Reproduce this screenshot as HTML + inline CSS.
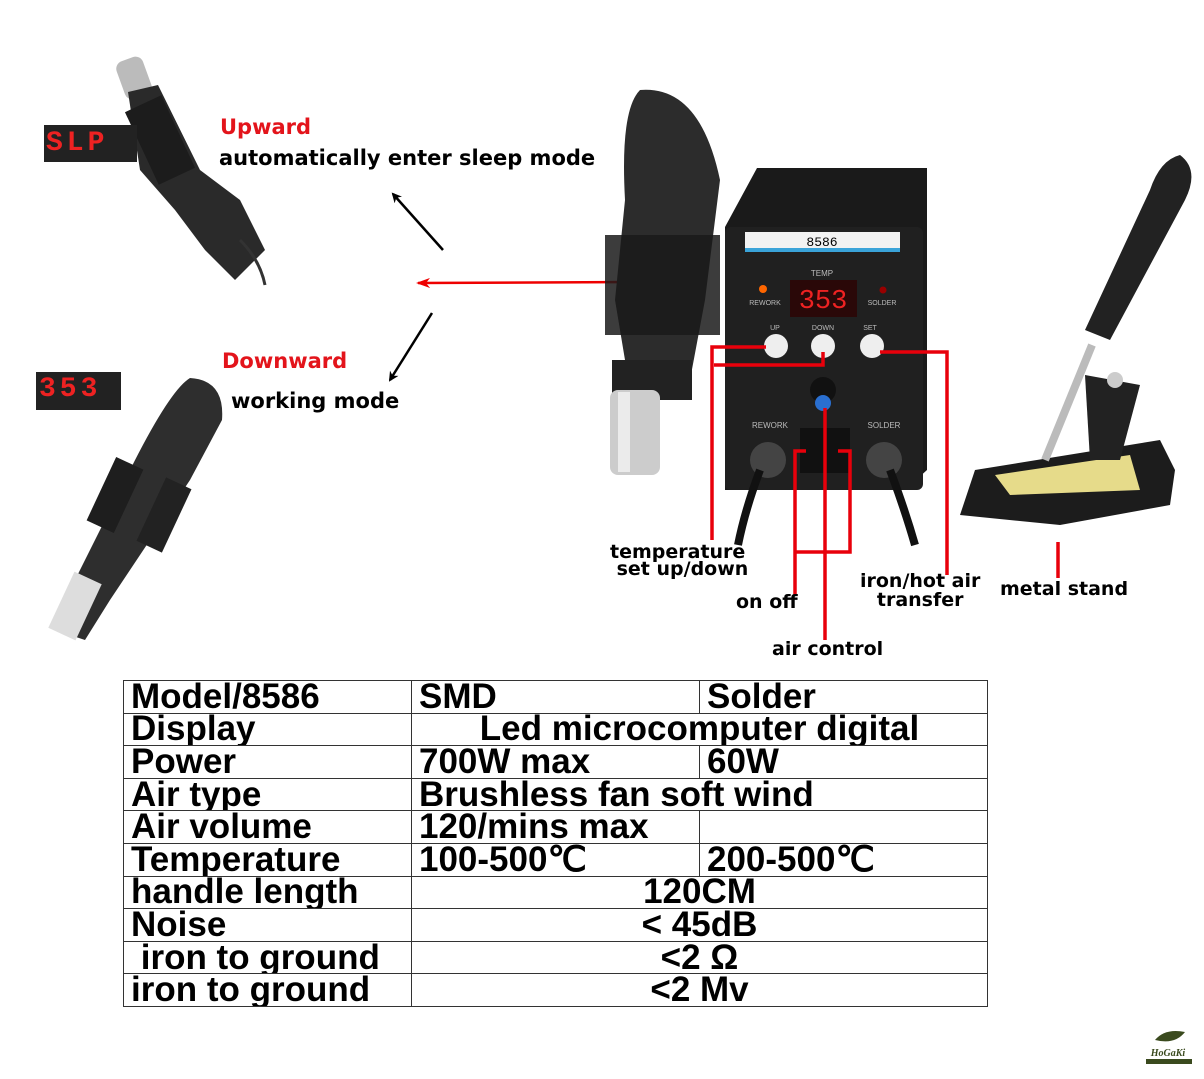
<!DOCTYPE html>
<html><head><meta charset="utf-8"><style>
body{margin:0;background:#fff;width:1204px;height:1079px;overflow:hidden;position:relative;font-family:"Liberation Sans",sans-serif}
svg{position:absolute;left:0;top:0}
.t{position:absolute;font-weight:bold;white-space:nowrap;font-family:"DejaVu Sans",sans-serif}
table{position:absolute;left:123px;top:680px;border-collapse:collapse;font-family:"Liberation Sans",sans-serif;font-weight:bold;font-size:35px;table-layout:fixed}
td{border:1.5px solid #333;height:31.6px;padding:0 0 0 7px;line-height:30px;white-space:nowrap;overflow:hidden}
.c{text-align:center;padding:0}
</style></head><body>
<svg width="1204" height="1079" viewBox="0 0 1204 1079">
<defs>
<marker id="ab" markerWidth="10" markerHeight="10" refX="8" refY="5" orient="auto" markerUnits="userSpaceOnUse"><path d="M0,0 L10,5 L0,10 L3,5z" fill="#000"/></marker>
<marker id="ar" markerWidth="14" markerHeight="10" refX="12" refY="5" orient="auto" markerUnits="userSpaceOnUse"><path d="M0,0 L14,5 L0,10 L4,5z" fill="#e00"/></marker>
</defs>
<g>
<rect x="120" y="58" width="28" height="40" rx="8" fill="#bbb" transform="rotate(-20 134 78)"/>
<path d="M128,92 L158,85 L200,170 L240,200 L265,250 L235,280 L205,250 L175,210 L140,170 Z" fill="#2a2a2a"/>
<path d="M240,240 Q260,260 265,285" stroke="#333" stroke-width="3" fill="none"/>
<rect x="140" y="100" width="40" height="80" fill="#1c1c1c" transform="rotate(-25 160 140)"/>
</g>
<rect x="44" y="125" width="93" height="37" fill="#222"/>
<rect x="36" y="372" width="85" height="38" fill="#222"/>
<path d="M190,378 Q225,380 222,420 L190,480 L150,540 L110,600 L85,640 L55,630 L70,590 L100,530 L130,470 Q170,390 190,378Z" fill="#2e2e2e"/>
<rect x="100" y="460" width="30" height="70" fill="#1e1e1e" transform="rotate(25 115 495)"/>
<rect x="150" y="480" width="28" height="70" fill="#222" transform="rotate(25 164 515)"/>
<rect x="60" y="575" width="30" height="62" fill="#ddd" transform="rotate(25 75 606)"/>
<line x1="443" y1="250" x2="393" y2="194" stroke="#000" stroke-width="2.5" marker-end="url(#ab)"/>
<line x1="645" y1="282" x2="418" y2="283" stroke="#e00" stroke-width="2.5" marker-end="url(#ar)"/>
<line x1="432" y1="313" x2="390" y2="380" stroke="#000" stroke-width="2.5" marker-end="url(#ab)"/>
<path d="M757,168 L927,168 L927,470 L905,490 L725,490 L725,227 Z" fill="#1a1a1a"/>
<rect x="725" y="227" width="198" height="263" rx="6" fill="#202020"/>
<rect x="745" y="232" width="155" height="20" fill="#f2f2f2"/>
<rect x="745" y="248" width="155" height="4" fill="#3aa3d8"/>
<text x="822" y="246" font-size="13" text-anchor="middle" font-family="Liberation Mono">8586</text>
<text x="822" y="276" font-size="8" fill="#bbb" text-anchor="middle">TEMP</text>
<rect x="790" y="280" width="67" height="37" fill="#2a0808"/>
<text x="823" y="308" font-size="27" fill="#e22" text-anchor="middle" font-family="Liberation Mono">353</text>
<circle cx="763" cy="289" r="4" fill="#f60"/><circle cx="883" cy="290" r="3.5" fill="#900"/>
<text x="765" y="305" font-size="7" fill="#bbb" text-anchor="middle">REWORK</text>
<text x="882" y="305" font-size="7" fill="#bbb" text-anchor="middle">SOLDER</text>
<text x="775" y="330" font-size="7" fill="#bbb" text-anchor="middle">UP</text>
<text x="823" y="330" font-size="7" fill="#bbb" text-anchor="middle">DOWN</text>
<text x="870" y="330" font-size="7" fill="#bbb" text-anchor="middle">SET</text>
<circle cx="776" cy="346" r="12" fill="#eee"/><circle cx="823" cy="346" r="12" fill="#eee"/><circle cx="872" cy="346" r="12" fill="#eee"/>
<circle cx="823" cy="390" r="13" fill="#111"/><circle cx="823" cy="403" r="8" fill="#2a6fd0"/>
<text x="770" y="428" font-size="8" fill="#bbb" text-anchor="middle">REWORK</text>
<text x="884" y="428" font-size="8" fill="#bbb" text-anchor="middle">SOLDER</text>
<rect x="800" y="428" width="50" height="45" fill="#111"/>
<circle cx="768" cy="460" r="18" fill="#444"/><circle cx="884" cy="460" r="18" fill="#444"/>
<path d="M760,470 Q745,510 738,545" stroke="#111" stroke-width="8" fill="none"/>
<path d="M890,470 Q905,510 915,545" stroke="#111" stroke-width="8" fill="none"/>
<path d="M640,90 Q700,85 720,180 L705,300 L690,380 L630,390 L615,300 L625,200 Q620,110 640,90Z" fill="#2c2c2c"/>
<rect x="605" y="235" width="115" height="100" fill="#1a1a1a" opacity="0.85"/>
<rect x="612" y="360" width="80" height="40" fill="#222"/>
<rect x="610" y="390" width="50" height="85" rx="8" fill="#ccc"/>
<rect x="618" y="392" width="12" height="80" fill="#fff" opacity="0.6"/>
<path d="M975,470 L1160,440 L1175,470 L1170,505 L1060,525 L960,515 Z" fill="#1c1c1c"/>
<path d="M995,475 L1130,455 L1140,490 L1010,495 Z" fill="#e6db8a"/>
<path d="M1085,375 L1140,385 L1120,460 L1090,460Z" fill="#222"/>
<path d="M1180,155 Q1200,170 1185,200 L1110,340 L1085,330 L1150,190 Q1160,160 1180,155Z" fill="#222"/>
<line x1="1092" y1="345" x2="1045" y2="460" stroke="#bbb" stroke-width="8"/>
<circle cx="1115" cy="380" r="8" fill="#ccc"/>
<g stroke="#e8000b" stroke-width="3.5" fill="none">
<polyline points="766,347 712,347 712,540"/>
<polyline points="823,352 823,365 714,365"/>
<polyline points="806,451 795,451 795,595"/>
<polyline points="838,451 850,451 850,552 795,552"/>
<line x1="825" y1="408" x2="825" y2="640"/>
<polyline points="880,352 947,352 947,575"/>
<line x1="1058" y1="542" x2="1058" y2="578"/>
</g>
<path d="M1155,1040 Q1165,1028 1185,1032 Q1175,1045 1155,1040Z" fill="#3a4a1e"/>
<text x="1168" y="1056" font-size="10" font-style="italic" font-weight="bold" fill="#3a4a1e" text-anchor="middle" font-family="Liberation Serif">HoGaKi</text>
<rect x="1146" y="1059" width="46" height="5" fill="#3a4a1e"/>
</svg>
<div class="t" style="left:46px;top:128px;color:#e22;font-size:28px;font-family:'Liberation Mono';letter-spacing:4px">SLP</div>
<div class="t" style="left:39px;top:374px;color:#e22;font-size:28px;font-family:'Liberation Mono';letter-spacing:4px">353</div>
<div class="t" style="left:220px;top:115px;color:#e3141b;font-size:21px">Upward</div>
<div class="t" style="left:219px;top:146px;font-size:21px">automatically enter sleep mode</div>
<div class="t" style="left:222px;top:349px;color:#e3141b;font-size:21px">Downward</div>
<div class="t" style="left:231px;top:389px;font-size:21px">working mode</div>
<div class="t" style="left:610px;top:544px;font-size:19px;line-height:17px">temperature<br>&nbsp;set up/down</div>
<div class="t" style="left:736px;top:591px;font-size:19px">on off</div>
<div class="t" style="left:772px;top:638px;font-size:19px">air control</div>
<div class="t" style="left:860px;top:572px;font-size:19px;line-height:19px;text-align:center">iron/hot air<br>transfer</div>
<div class="t" style="left:1000px;top:578px;font-size:19px">metal stand</div>
<table>
<tr><td style="width:280px">Model/8586</td><td style="width:280px">SMD</td><td style="width:280px">Solder</td></tr>
<tr><td>Display</td><td class="c" colspan="2">Led microcomputer digital</td></tr>
<tr><td>Power</td><td>700W max</td><td>60W</td></tr>
<tr><td>Air type</td><td colspan="2">Brushless fan soft wind</td></tr>
<tr><td>Air volume</td><td>120/mins max</td><td></td></tr>
<tr><td>Temperature</td><td>100-500℃</td><td>200-500℃</td></tr>
<tr><td>handle length</td><td class="c" colspan="2">120CM</td></tr>
<tr><td>Noise</td><td class="c" colspan="2">&lt; 45dB</td></tr>
<tr><td>&nbsp;iron to ground</td><td class="c" colspan="2">&lt;2 Ω</td></tr>
<tr><td>iron to ground</td><td class="c" colspan="2">&lt;2 Mv</td></tr>
</table>
</body></html>
